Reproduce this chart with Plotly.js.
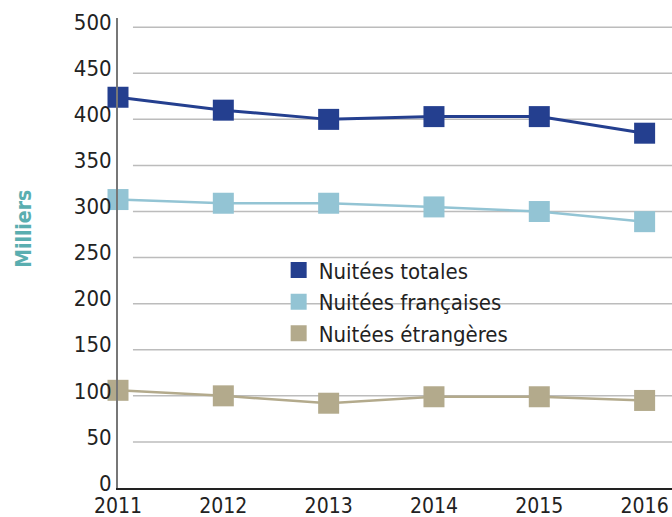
<!DOCTYPE html>
<html><head><meta charset="utf-8">
<script src="https://cdn.plot.ly/plotly-3.0.1.min.js"></script>
<style>html,body{margin:0;padding:0;background:#fff}</style>
</head><body>
<div id="chart" style="width:672px;height:517px"></div>
<script>
const years = [2011, 2012, 2013, 2014, 2015, 2016];
const totales = [424, 410, 400, 403, 403, 385];
const francaises = [313, 309, 309, 305, 300, 289];
const etrangeres = [106, 100, 92, 99, 99, 95];
const seriesNames = ["Nuitées totales", "Nuitées françaises", "Nuitées étrangères"];
const yTicks = [0, 50, 100, 150, 200, 250, 300, 350, 400, 450, 500];
const gridVals = [50, 100, 150, 200, 250, 300, 350, 400, 450, 500];
const yTitle = "Milliers";

const colors = ["#243f8f", "#93c4d4", "#b3aa8c"];
const widths = [3, 2.5, 2.5];
const vals = [totales, francaises, etrangeres];
const FONT = "'DejaVu Sans Condensed', 'Liberation Sans Narrow', sans-serif";

const traces = [];
vals.forEach((v, i) => {
  traces.push({x: years, y: v, mode: 'lines', showlegend: false, hoverinfo: 'skip',
    line: {color: colors[i], width: widths[i]}, cliponaxis: false});
});
vals.forEach((v, i) => {
  traces.push({x: years, y: v, mode: 'markers', name: seriesNames[i],
    marker: {symbol: 'square', size: 21, color: colors[i]}, cliponaxis: false});
});

const shapes = gridVals.map(g => ({type: 'line', xref: 'paper', yref: 'y',
  x0: 0.027, x1: 1, y0: g, y1: g, line: {color: '#bcbcbc', width: 1.5}, layer: 'below'}));

const layout = {
  width: 672, height: 517,
  margin: {l: 118, r: 0, t: 18, b: 29},
  paper_bgcolor: '#fff', plot_bgcolor: '#fff',
  font: {family: FONT, size: 22, color: '#222'},
  showlegend: true,
  legend: {x: 0.29, y: 0.508, xanchor: 'left', yanchor: 'top',
    font: {family: FONT, size: 22, color: '#222'}, bgcolor: 'rgba(0,0,0,0)',
    itemsizing: 'trace', tracegroupgap: 0, itemwidth: 30},
  xaxis: {range: [2011, 2016.26], tickvals: years, ticktext: years.map(String),
    showgrid: false, zeroline: false, showline: true, linecolor: '#222', linewidth: 2,
    ticks: '', tickfont: {family: FONT, size: 21, color: '#222'}, ticklabelstandoff: -2,
    fixedrange: true},
  yaxis: {range: [0, 510], tickvals: yTicks, ticktext: yTicks.map(String),
    showgrid: false, zeroline: false, showline: true, linecolor: '#777', linewidth: 2,
    ticks: '', tickfont: {family: FONT, size: 22, color: '#222'}, ticklabelshift: -5,
    fixedrange: true},
  annotations: [{text: '<b>' + yTitle + '</b>', xref: 'paper', yref: 'paper',
    x: -0.17, y: 0.551, xanchor: 'center', yanchor: 'middle', textangle: -90, showarrow: false,
    font: {family: FONT, size: 21, color: '#5aaeb0'}}],
  shapes: shapes
};
Plotly.newPlot('chart', traces, layout, {displayModeBar: false, staticPlot: true});
</script>
</body></html>
